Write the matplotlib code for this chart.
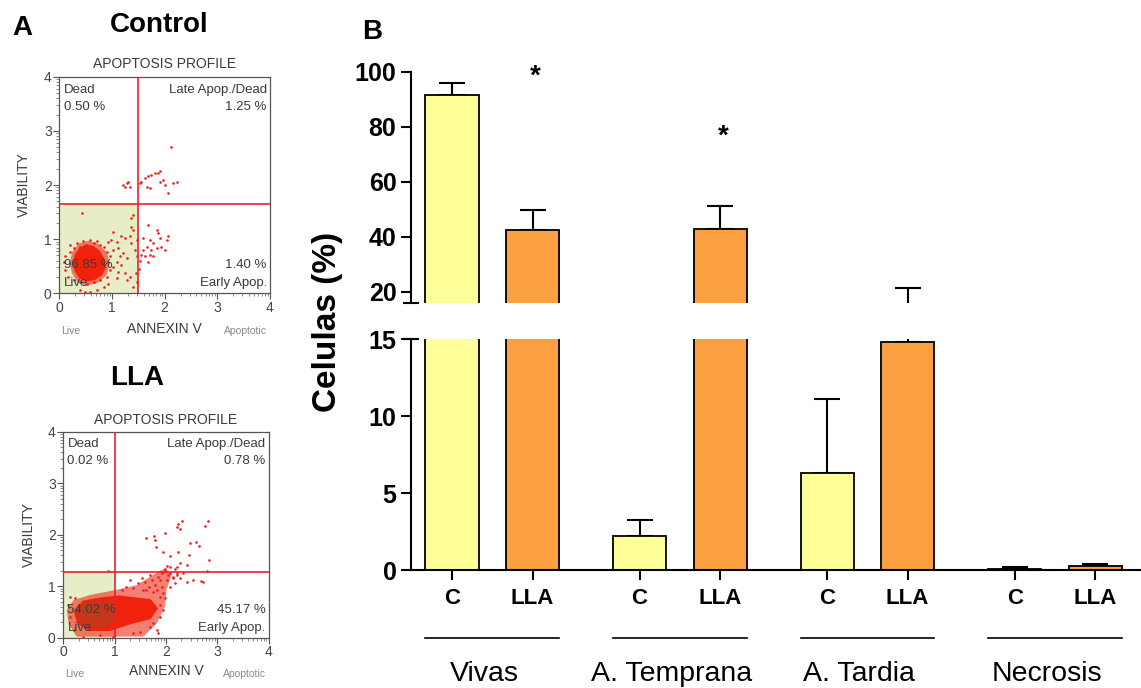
import numpy as np
import matplotlib
matplotlib.use("Agg")
import matplotlib.pyplot as plt
from matplotlib.patches import Polygon, Rectangle
from matplotlib.transforms import blended_transform_factory

plt.rcParams['font.family'] = ['Liberation Sans', 'DejaVu Sans']

# ---------------------------------------------------------------- bar data
groups = ['Vivas', 'A. Temprana', 'A. Tardia', 'Necrosis']
treatments = ['C', 'LLA']
control_mean = [91.5, 2.23, 6.3, 0.10]
control_sd = [4.5, 1.02, 4.8, 0.10]
lla_mean = [42.3, 42.8, 14.8, 0.28]
lla_sd = [7.3, 8.4, 6.65, 0.15]
sig_groups = [0, 1]          # groups where LLA differs significantly from C
sig_marker_y = [98.2, 76.4]  # height of the '*' marks

# ------------------------------------------------------- cytometry profiles
quadrant_names = ['Live', 'Early Apop.', 'Late Apop./Dead', 'Dead']

ctrl_gate = (1.5, 1.65)
ctrl_pct = ['96.85 %', '1.40 %', '1.25 %', '0.50 %']
ctrl_core = [(0.28, 0.55), (0.31, 0.71), (0.39, 0.82), (0.50, 0.88), (0.63, 0.86),
             (0.76, 0.77), (0.84, 0.62), (0.86, 0.47), (0.79, 0.34), (0.66, 0.26),
             (0.52, 0.24), (0.39, 0.29), (0.31, 0.41)]
ctrl_halo = [(0.20, 0.55), (0.24, 0.76), (0.37, 0.92), (0.55, 0.97), (0.73, 0.92),
             (0.90, 0.76), (0.96, 0.55), (0.90, 0.34), (0.73, 0.19), (0.52, 0.14),
             (0.34, 0.21), (0.24, 0.37)]
ctrl_dense = []
ctrl_events = [
    (0.43, 1.48), (1.02, 1.14), (0.99, 0.99), (0.93, 0.95), (1.09, 0.95), (1.18, 1.05),
    (1.25, 1.02), (0.84, 0.86), (0.77, 0.89), (0.65, 0.92), (0.52, 0.89), (0.39, 0.86),
    (0.27, 0.83), (0.20, 0.77), (0.11, 0.68), (0.08, 0.58), (0.11, 0.43), (0.17, 0.31),
    (0.27, 0.25), (0.39, 0.21), (0.52, 0.18), (0.65, 0.21), (0.77, 0.25), (0.90, 0.31),
    (0.96, 0.43), (1.02, 0.49), (1.09, 0.58), (1.15, 0.68), (1.21, 0.74), (1.28, 0.65),
    (1.18, 0.52), (1.12, 0.40), (1.25, 0.37), (1.09, 0.28), (0.93, 0.18), (0.84, 0.12),
    (0.71, 0.07), (0.58, 0.03), (0.49, 0.02), (0.39, 0.06), (1.28, 0.25), (1.34, 0.31),
    (0.96, 0.68), (0.93, 0.58), (1.02, 0.80), (0.90, 0.77), (1.12, 0.83), (0.71, 0.96),
    (0.58, 0.99), (0.45, 0.96), (0.33, 0.92), (0.20, 0.89),
    (1.37, 1.39), (1.40, 1.45), (1.37, 1.23), (1.40, 1.17), (1.34, 1.05), (1.37, 0.92),
    (1.47, 0.99), (1.44, 0.80), (1.47, 0.68), (1.46, 0.37), (1.48, 0.21), (1.40, 0.12),
    (1.21, 2.00), (1.28, 2.03), (1.34, 1.97), (1.31, 2.05), (1.25, 1.96),
    (2.13, 2.71), (1.53, 2.03), (1.56, 2.06), (1.63, 2.13), (1.69, 2.16), (1.75, 2.19),
    (1.81, 2.22), (1.88, 2.23), (1.91, 2.25), (1.66, 1.97), (1.72, 1.94), (1.91, 2.06),
    (1.97, 2.09), (2.00, 2.00), (2.07, 1.85), (2.16, 2.03), (2.23, 2.06),
    (1.69, 1.26), (1.85, 1.17), (1.88, 1.11), (1.59, 1.02), (1.72, 0.99), (1.78, 0.92),
    (1.91, 1.02), (2.04, 0.99), (2.07, 1.05), (1.66, 0.86), (1.75, 0.80), (1.85, 0.83),
    (1.94, 0.86), (2.01, 0.80), (1.56, 0.71), (1.63, 0.68), (1.72, 0.71), (1.78, 0.68),
    (1.69, 0.58), (1.59, 0.80), (1.53, 0.60), (1.52, 0.45)]

lla_gate = (1.0, 1.28)
lla_pct = ['54.02 %', '45.17 %', '0.78 %', '0.02 %']
lla_core = [(0.39, 0.70), (0.71, 0.76), (1.10, 0.80), (1.43, 0.76), (1.69, 0.73),
            (1.82, 0.57), (1.69, 0.38), (1.30, 0.28), (0.91, 0.15), (0.52, 0.15),
            (0.29, 0.28), (0.23, 0.50)]
lla_halo = [(0.20, 0.73), (0.52, 0.83), (1.04, 0.93), (1.43, 1.02), (1.75, 1.22),
            (1.98, 1.35), (2.11, 1.22), (2.01, 0.93), (1.98, 0.60), (1.82, 0.28),
            (1.56, 0.02), (0.26, 0.02), (0.10, 0.28), (0.07, 0.54)]
lla_dense = [(0.27, 0.36), (0.31, 0.62), (0.55, 0.71), (0.97, 0.70), (1.00, 0.30),
             (0.72, 0.19), (0.42, 0.21)]
lla_events = [
    (1.30, 1.12), (1.36, 0.96), (1.46, 1.06), (1.53, 1.15), (1.59, 1.09), (1.66, 0.99),
    (1.72, 1.12), (1.79, 1.02), (1.82, 0.93), (1.88, 1.12), (1.92, 0.99), (1.95, 0.86),
    (1.98, 0.77), (1.88, 0.80), (2.01, 1.12), (2.04, 1.22), (2.14, 1.15), (2.18, 1.06),
    (2.08, 0.99), (2.21, 1.25), (1.92, 1.25), (1.85, 1.18), (1.23, 0.99), (1.14, 0.93),
    (1.69, 1.22), (1.62, 0.93), (1.75, 0.89), (1.56, 0.93), (1.88, 0.63), (1.95, 0.54),
    (1.88, 0.41), (1.75, 0.28), (1.69, 0.21), (1.82, 0.15), (1.85, 0.09), (1.49, 0.12),
    (1.36, 0.09), (0.97, 0.02), (0.71, 0.05), (0.39, 0.02), (0.20, 0.15), (0.13, 0.41),
    (0.10, 0.63), (0.23, 0.77), (0.13, 0.80),
    (2.31, 2.27), (2.23, 2.21), (2.27, 2.12), (2.21, 2.14), (2.76, 2.17), (2.82, 2.27),
    (1.77, 1.97), (1.79, 1.90), (1.81, 1.76), (1.62, 1.93), (1.98, 2.04), (2.47, 1.83),
    (2.58, 1.85), (2.64, 1.78), (1.95, 1.67), (2.08, 1.59), (2.24, 1.67), (2.45, 1.61),
    (2.84, 1.51), (2.40, 1.41), (2.27, 1.46), (2.01, 1.39), (1.98, 1.33), (2.08, 1.37),
    (2.18, 1.33), (2.21, 1.38), (0.88, 1.30), (1.98, 1.30), (2.80, 1.30), (2.08, 1.25),
    (2.14, 1.18), (2.21, 1.22), (2.27, 1.15), (2.34, 1.25), (2.69, 1.11), (2.53, 1.12),
    (2.40, 1.09), (2.73, 1.09)]

# ------------------------------------------------------------------ figure
W, H = 1141, 688
fig = plt.figure(figsize=(W / 100, H / 100), dpi=100)


def fx(px):
    return px / W


def fy(py):
    return 1 - py / H


def axes_px(left, top, right, bottom):
    return fig.add_axes([fx(left), fy(bottom), (right - left) / W, (bottom - top) / H])


GRAY = '#3a3a3a'


def draw_profile(ax, events, core, halo, dense, gate, pct):
    gx, gy = gate
    ax.set_xlim(0, 4)
    ax.set_ylim(0, 4)
    ax.add_patch(Rectangle((0, 0), gx, gy, facecolor='#e6eec8', edgecolor='none', zorder=0))
    ax.add_patch(Polygon(halo, closed=True, facecolor='#ee2a14', alpha=0.6,
                         edgecolor='none', zorder=1))
    ax.add_patch(Polygon(core, closed=True, facecolor='#f0220c', edgecolor='#f0220c',
                         lw=1.5, zorder=2))
    if dense:
        ax.add_patch(Polygon(dense, closed=True, facecolor='#c8361a', edgecolor='#c8361a',
                             lw=1.0, zorder=2.5))
    ev = np.array(events)
    ax.scatter(ev[:, 0], ev[:, 1], s=3.5, color='#f01c1c', linewidths=0, zorder=3)
    ax.axvline(gx, color='#e8202a', lw=1.2, zorder=4)
    ax.axhline(gy, color='#e8202a', lw=1.2, zorder=4)

    kw = dict(fontsize=9.5, color=GRAY, va='center', zorder=5)
    ax.text(0.08, 3.76, quadrant_names[3], ha='left', **kw)
    ax.text(0.08, 3.44, pct[3], ha='left', **kw)
    ax.text(3.94, 3.76, quadrant_names[2], ha='right', **kw)
    ax.text(3.94, 3.44, pct[2], ha='right', **kw)
    ax.text(3.94, 0.53, pct[1], ha='right', **kw)
    ax.text(3.94, 0.19, quadrant_names[1], ha='right', **kw)
    ax.text(0.08, 0.53, pct[0], ha='left', **kw)
    ax.text(0.08, 0.19, quadrant_names[0], ha='left', **kw)

    ticks = np.arange(5)
    minor = [d + np.log10(k) for d in range(4) for k in range(2, 10)]
    ax.set_xticks(ticks)
    ax.set_yticks(ticks)
    ax.set_xticks(minor, minor=True)
    ax.set_yticks(minor, minor=True)
    ax.tick_params(which='major', length=4, width=0.8, color='#555555',
                   labelsize=10, labelcolor='#444444', pad=1.5)
    ax.tick_params(which='minor', length=2, width=0.6, color='#777777')
    for s in ax.spines.values():
        s.set_color('#555555')
        s.set_linewidth(0.9)

    ax.text(0.5, 1.058, 'APOPTOSIS PROFILE', transform=ax.transAxes, ha='center',
            va='center', fontsize=10, color=GRAY)
    ax.text(-0.168, 0.5, 'VIABILITY', transform=ax.transAxes, ha='center',
            va='center', rotation=90, fontsize=10, color=GRAY)
    ax.text(0.5, -0.163, 'ANNEXIN V', transform=ax.transAxes, ha='center',
            va='center', fontsize=10, color=GRAY)
    ax.text(0.056, -0.175, 'Live', transform=ax.transAxes, ha='center',
            va='center', fontsize=7.5, color='#8a8a8a')
    ax.text(0.883, -0.175, 'Apoptotic', transform=ax.transAxes, ha='center',
            va='center', fontsize=7.5, color='#8a8a8a')


ax_c = axes_px(59.3, 76.7, 270, 293.3)
draw_profile(ax_c, ctrl_events, ctrl_core, ctrl_halo, ctrl_dense, ctrl_gate, ctrl_pct)
ax_l = axes_px(63.3, 431.7, 268.7, 637.7)
draw_profile(ax_l, lla_events, lla_core, lla_halo, lla_dense, lla_gate, lla_pct)

fig.text(fx(22), fy(28), 'A', ha='center', va='center', fontsize=20, fontweight='bold')
fig.text(fx(159), fy(25), 'Control', ha='center', va='center', fontsize=20, fontweight='bold')
fig.text(fx(137), fy(378), 'LLA', ha='center', va='center', fontsize=20, fontweight='bold')
fig.text(fx(372), fy(32), 'B', ha='center', va='center', fontsize=20, fontweight='bold')

# ------------------------------------------------------ broken-axis bar chart
G = 2.33
bw = 0.66
xc = [g * G for g in range(len(groups))]
xl = [g * G + 1 for g in range(len(groups))]

ax_top = axes_px(411, 71.7, 1141, 302.7)
ax_bot = axes_px(411, 339.3, 1141, 570.3)

for ax in (ax_top, ax_bot):
    ax.bar(xc, control_mean, bw, color='#ffff99', edgecolor='black', lw=1.3, zorder=2)
    ax.bar(xl, lla_mean, bw, color='#fba040', edgecolor='black', lw=1.3, zorder=2)
    ax.errorbar(xc, control_mean, yerr=[np.zeros(len(groups)), control_sd], fmt='none',
                ecolor='black', elinewidth=1.5, capsize=9.7, capthick=1.5, zorder=1)
    ax.errorbar(xl, lla_mean, yerr=[np.zeros(len(groups)), lla_sd], fmt='none',
                ecolor='black', elinewidth=1.5, capsize=9.7, capthick=1.5, zorder=1)
    ax.set_xlim(-0.51, 8.56)
    ax.spines['top'].set_visible(False)
    ax.spines['right'].set_visible(False)
    ax.spines['left'].set_linewidth(1.5)
    ax.spines['bottom'].set_linewidth(1.5)
    ax.tick_params(axis='y', length=7, width=1.5, labelsize=18, pad=3.5)

ax_top.set_ylim(16, 100)
ax_top.set_yticks([20, 40, 60, 80, 100])
ax_top.spines['bottom'].set_visible(False)
ax_top.set_xticks([])
ax_bot.set_ylim(0, 15)
ax_bot.set_yticks([0, 5, 10, 15])
for ax in (ax_top, ax_bot):
    for t in ax.get_yticklabels():
        t.set_fontweight('bold')

ticks_x = [v for pair in zip(xc, xl) for v in pair]
ax_bot.set_xticks(ticks_x)
ax_bot.set_xticklabels(treatments * len(groups), fontweight='bold')
ax_bot.tick_params(axis='x', length=7, width=1.5, labelsize=16, pad=5.5)

# break marks at the ends of the interrupted y axis
d = 7 / 730
ax_top.plot([-d, d], [0, 0], transform=ax_top.transAxes, color='black', lw=1.5,
            clip_on=False)
ax_bot.plot([-d, d], [1, 1], transform=ax_bot.transAxes, color='black', lw=1.5,
            clip_on=False)

for g, yv in zip(sig_groups, sig_marker_y):
    ax_top.text(xl[g] + 0.04, yv, '*', ha='center', va='center', fontsize=20,
                fontweight='bold', clip_on=False)

fig.text(fx(327), fy(322), 'Celulas (%)', rotation=90, ha='center', va='center',
         fontsize=24, fontweight='bold')

trans = blended_transform_factory(ax_bot.transData, fig.transFigure)
for g, name in enumerate(groups):
    cx = g * G + 0.5
    ax_bot.plot([cx - 0.83, cx + 0.83], [fy(638), fy(638)], transform=trans,
                color='black', lw=1.2, clip_on=False)
    ax_bot.text(cx - 0.1, fy(681), name, transform=trans, ha='center',
                va='baseline', fontsize=20.5)

fig.savefig('out.png', dpi=100)
